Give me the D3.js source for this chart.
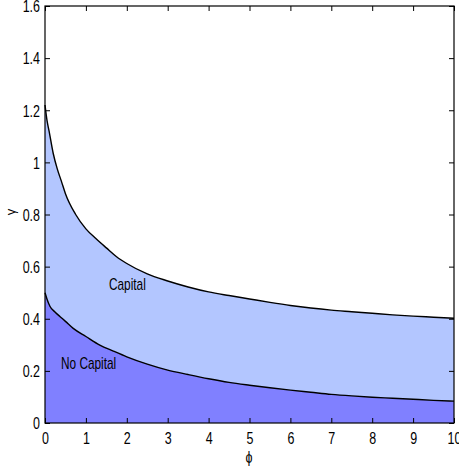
<!DOCTYPE html>
<html>
<head>
<meta charset="utf-8">
<script src="https://cdn.jsdelivr.net/npm/d3@7"></script>
<style>
  html, body { margin: 0; padding: 0; background: #fff; }
  svg { display: block; }
  text { font-family: "Liberation Sans", Arial, Helvetica, sans-serif; fill: #000; }
</style>
</head>
<body>
<svg id="chart" width="459" height="469"></svg>
<script>
// ---- data ----
const capitalPhi   = [0, 0.05, 0.1, 0.2, 0.3, 0.4, 0.5, 0.75, 1, 1.25, 1.5, 1.75, 2, 2.5, 3, 3.5, 4, 4.5, 5, 5.5, 6, 6.5, 7, 7.5, 8, 8.5, 9, 9.5, 10];
const capitalGamma = [1.22, 1.16, 1.12, 1.035, 0.975, 0.928, 0.88, 0.80, 0.745, 0.707, 0.672, 0.638, 0.612, 0.572, 0.545, 0.522, 0.503, 0.489, 0.476, 0.463, 0.451, 0.441, 0.433, 0.427, 0.421, 0.415, 0.410, 0.406, 0.402];

const noCapitalPhi   = [0, 0.05, 0.12, 0.25, 0.37, 0.5, 0.69, 1, 1.34, 1.67, 2, 2.5, 3, 3.5, 4, 4.5, 5, 5.5, 6, 6.5, 7, 7.5, 8, 8.5, 9, 9.5, 10];
const noCapitalGamma = [0.50, 0.475, 0.448, 0.425, 0.408, 0.39, 0.363, 0.332, 0.299, 0.276, 0.254, 0.226, 0.203, 0.186, 0.170, 0.156, 0.145, 0.135, 0.126, 0.118, 0.110, 0.104, 0.099, 0.095, 0.091, 0.087, 0.084];

const xTicks = [0, 1, 2, 3, 4, 5, 6, 7, 8, 9, 10];
const yTicks = [0, 0.2, 0.4, 0.6, 0.8, 1, 1.2, 1.4, 1.6];
const regionLabels = ["Capital", "No Capital"];
const xLabel = "\u03D5";
const yLabel = "\u03B3";

// ---- drawing ----
const svg = d3.select("#chart");
const L = 45, R = 454, T = 6, B = 423;
const x = d3.scaleLinear().domain([0, 10]).range([L, R]);
const y = d3.scaleLinear().domain([0, 1.6]).range([B, T]);
const SX = 0.78;

const capData = capitalPhi.map((p, i) => ({ p, g: capitalGamma[i] }));
const noCapData = noCapitalPhi.map((p, i) => ({ p, g: noCapitalGamma[i] }));

const area = d3.area().x(d => x(d.p)).y0(y(0)).y1(d => y(d.g)).curve(d3.curveMonotoneX);
const line = d3.line().x(d => x(d.p)).y(d => y(d.g)).curve(d3.curveMonotoneX);

svg.append("path").datum(capData).attr("d", area).attr("fill", "#b3c6ff");
svg.append("path").datum(noCapData).attr("d", area).attr("fill", "#8080ff");
svg.append("path").datum(capData).attr("d", line).attr("fill", "none").attr("stroke", "#000").attr("stroke-width", 1.4);
svg.append("path").datum(noCapData).attr("d", line).attr("fill", "none").attr("stroke", "#000").attr("stroke-width", 1.4);

// axes
const fmt = d => String(+d.toFixed(1));
const gB = svg.append("g").attr("transform", `translate(0,${B})`)
  .call(d3.axisBottom(x).tickValues(xTicks).tickSizeInner(-5).tickSizeOuter(0).tickPadding(0).tickFormat(fmt));
const gT = svg.append("g").attr("transform", `translate(0,${T})`)
  .call(d3.axisTop(x).tickValues(xTicks).tickSizeInner(-5).tickSizeOuter(0).tickFormat(""));
const gL = svg.append("g").attr("transform", `translate(${L},0)`)
  .call(d3.axisLeft(y).tickValues(yTicks).tickSizeInner(-5).tickSizeOuter(0).tickFormat(fmt));
const gR = svg.append("g").attr("transform", `translate(${R},0)`)
  .call(d3.axisRight(y).tickValues(yTicks).tickSizeInner(-5).tickSizeOuter(0).tickFormat(""));

[gB, gT, gL, gR].forEach(g => {
  g.select(".domain").remove();
  g.selectAll(".tick line").attr("stroke", "#000").attr("stroke-width", 1);
});
gB.selectAll(".tick text")
  .attr("font-size", 16).attr("font-family", "Liberation Sans, Arial, sans-serif")
  .attr("y", 21).attr("dy", null)
  .attr("transform", `scale(${SX},1)`);
gL.selectAll(".tick text")
  .attr("font-size", 16).attr("font-family", "Liberation Sans, Arial, sans-serif")
  .attr("x", -5 / SX).attr("dy", "0.36em")
  .attr("transform", `scale(${SX},1)`);

// frame
svg.append("rect").attr("x", L).attr("y", T).attr("width", R - L).attr("height", B - T)
  .attr("fill", "none").attr("stroke", "#000").attr("stroke-width", 1.2);

// region labels
svg.append("text").text(regionLabels[0])
  .attr("font-size", 16)
  .attr("transform", `translate(109,290) scale(${SX - 0.04},1)`);
svg.append("text").text(regionLabels[1])
  .attr("font-size", 16)
  .attr("transform", `translate(61,369) scale(${SX - 0.04},1)`);

// axis labels
svg.append("text").text(xLabel)
  .attr("font-size", 16).attr("text-anchor", "middle")
  .attr("transform", `translate(249,463) scale(${SX},1)`);
svg.append("text").text(yLabel)
  .attr("font-size", 13).attr("text-anchor", "middle")
  .attr("transform", `translate(15,212) rotate(-90)`);
</script>
</body>
</html>
